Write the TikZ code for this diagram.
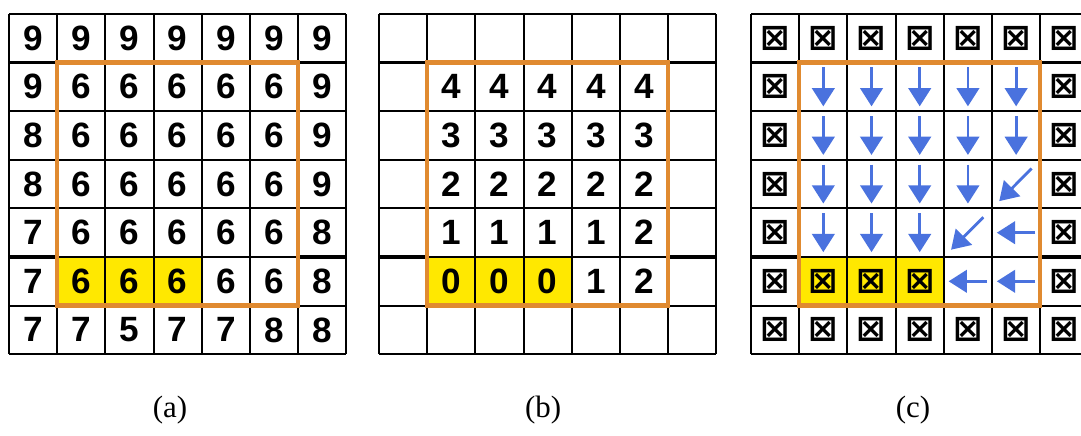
\documentclass[tikz,border=0pt]{standalone}
\usepackage{fontspec}
\setmainfont{Liberation Serif}
\newfontfamily\digitfont{Liberation Sans}
\newfontfamily\symfont{DejaVu Sans}
\usepackage{tikz}
\usetikzlibrary{arrows.meta}
\definecolor{frame}{HTML}{E08A30}
\definecolor{hilite}{HTML}{FFE800}
\definecolor{flowblue}{HTML}{4A72DE}

\begin{document}
\begin{tikzpicture}[
    x=1.205cm, y=-1.215cm,
    cellline/.style={line width=1.4pt},
    sepline/.style={line width=2.6pt},
    region/.style={draw=frame, line width=3pt},
    digit/.style={font=\digitfont\bfseries\fontsize{25}{28}\selectfont},
    blocked/.style={font=\symfont\bfseries\fontsize{25}{28}\selectfont},
    flow/.style={flowblue, line width=2pt, -{Triangle[width=16pt,length=13pt]}},
    caption/.style={font=\fontsize{22}{24}\selectfont},
]
    \useasboundingbox (0,0) rectangle (22.427,8.951);

    % (a) raw values
    \begin{scope}[shift={(0.187,0.288)}]
        \fill[hilite] (1,5) rectangle (4,6);
        \foreach \i in {0,...,7} {
            \draw[cellline] (\i,0) -- (\i,7);
            \draw[cellline] (0,\i) -- (7,\i);
        }
        \draw[sepline] (0,1) -- (1,1) (6,1) -- (7,1) (0,5) -- (1,5) (6,5) -- (7,5);
        \draw[region] (1,1) rectangle (6,6);
        \foreach \vals [count=\r from 0] in {{9,9,9,9,9,9,9},{9,6,6,6,6,6,9},{8,6,6,6,6,6,9},{8,6,6,6,6,6,9},{7,6,6,6,6,6,8},{7,6,6,6,6,6,8},{7,7,5,7,7,8,8}}
            \foreach \v [count=\c from 0] in \vals
                \node[digit] (a-\r-\c) at (\c+0.5,\r+0.5) {\v};
    \end{scope}

    % (b) distances
    \begin{scope}[shift={(7.863,0.288)}]
        \fill[hilite] (1,5) rectangle (4,6);
        \foreach \i in {0,...,7} {
            \draw[cellline] (\i,0) -- (\i,7);
            \draw[cellline] (0,\i) -- (7,\i);
        }
        \draw[sepline] (0,1) -- (1,1) (6,1) -- (7,1) (0,5) -- (1,5) (6,5) -- (7,5);
        \draw[region] (1,1) rectangle (6,6);
        \foreach \vals [count=\r from 1] in {{4,4,4,4,4},{3,3,3,3,3},{2,2,2,2,2},{1,1,1,1,2},{0,0,0,1,2}}
            \foreach \v [count=\c from 1] in \vals
                \node[digit] (b-\r-\c) at (\c+0.5,\r+0.5) {\v};
    \end{scope}

    % (c) flow directions
    \begin{scope}[shift={(15.581,0.288)}]
        \fill[hilite] (1,5) rectangle (4,6);
        \foreach \i in {0,...,7} {
            \draw[cellline] (\i,0) -- (\i,7);
            \draw[cellline] (0,\i) -- (7,\i);
        }
        \draw[sepline] (0,1) -- (1,1) (6,1) -- (7,1) (0,5) -- (1,5) (6,5) -- (7,5);
        \draw[region] (1,1) rectangle (6,6);
        \foreach \c in {0,...,6} {
            \node[blocked] (c-0-\c) at (\c+0.5,0.5) {⊠};
            \node[blocked] (c-6-\c) at (\c+0.5,6.5) {⊠};
        }
        \foreach \r in {1,...,5} {
            \node[blocked] (c-\r-0) at (0.5,\r+0.5) {⊠};
            \node[blocked] (c-\r-6) at (6.5,\r+0.5) {⊠};
        }
        \foreach \c in {1,2,3}
            \node[blocked] (c-5-\c) at (\c+0.5,5.5) {⊠};
        % down
        \foreach \r/\n in {1/5,2/5,3/4,4/3}
            \foreach \c in {1,...,\n}
                \draw[flow] (\c+0.5,\r+0.1) -- (\c+0.5,\r+0.9);
        % down-left
        \foreach \r/\c in {3/5,4/4}
            \draw[flow] (\c+0.82,\r+0.18) -- (\c+0.15,\r+0.85);
        % left
        \foreach \r/\c in {4/5,5/4,5/5}
            \draw[flow] (\c+0.9,\r+0.5) -- (\c+0.1,\r+0.5);
    \end{scope}

    % Captions
    \node[caption] (cap-a) at (3.527,8.436) {(a)};
    \node[caption] (cap-b) at (11.266,8.436) {(b)};
    \node[caption] (cap-c) at (18.94,8.436) {(c)};
\end{tikzpicture}
\end{document}
